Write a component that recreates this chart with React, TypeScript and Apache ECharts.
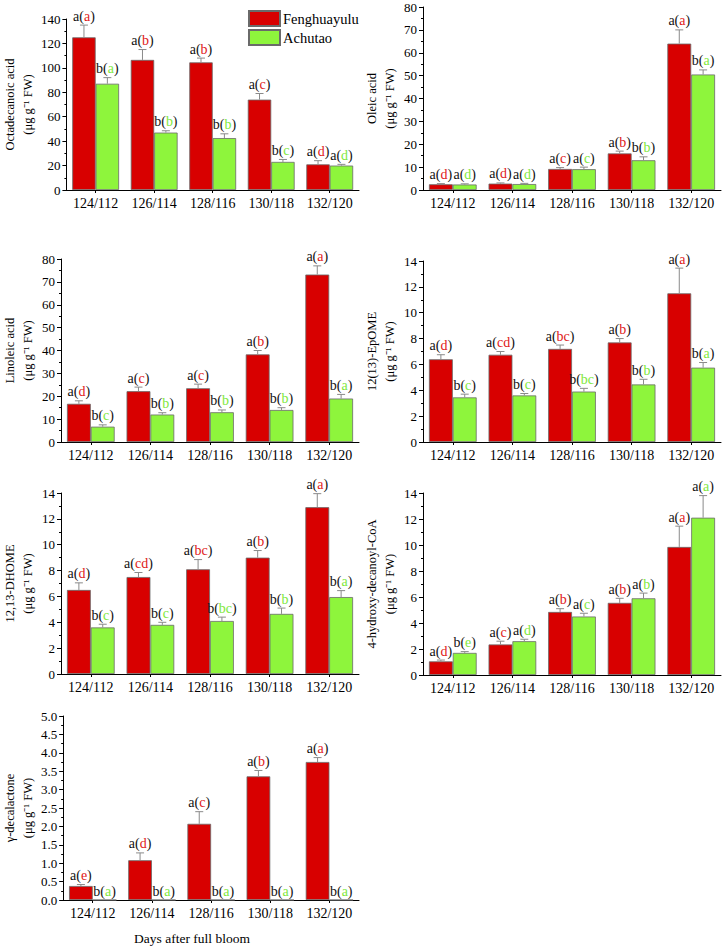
import React, { useEffect, useRef } from 'react';
import * as echarts from 'echarts';

const categories = ['124/112', '126/114', '128/116', '130/118', '132/120'];
const seriesNames = ['Fenghuayulu', 'Achutao'];
const panelTitles = ['Octadecanoic acid', 'Oleic acid', 'Linoleic acid', '12(13)-EpOME', '12,13-DHOME', '4-hydroxy-decanoyl-CoA', 'γ-decalactone'];
const unitLine = '(μg g⁻¹ FW)';
const xAxisTitle = 'Days after full bloom';

// Panel 1: Octadecanoic acid
const octRed = [125, 106.5, 104.5, 74, 21];
const octRedSd = [10, 8.5, 3.5, 5, 3];
const octGreen = [87, 47, 42.5, 23, 20];
const octGreenSd = [5, 1.5, 3.5, 2, 1];
const octRedSig = ['a(a)', 'a(b)', 'a(b)', 'a(c)', 'a(d)'];
const octGreenSig = ['b(a)', 'b(b)', 'b(b)', 'b(c)', 'a(d)'];

// Panel 2: Oleic acid
const oleRed = [2.5, 2.8, 9.2, 16, 64];
const oleRedSd = [0.3, 0.3, 0.6, 1, 6];
const oleGreen = [2.4, 2.6, 9.1, 13, 50.5];
const oleGreenSd = [0.3, 0.3, 0.9, 1.5, 2];
const oleRedSig = ['a(d)', 'a(d)', 'a(c)', 'a(b)', 'a(a)'];
const oleGreenSig = ['a(d)', 'a(d)', 'a(c)', 'b(b)', 'b(a)'];

// Panel 3: Linoleic acid
const linRed = [16.7, 22.2, 23.5, 38.3, 73.2];
const linRedSd = [1.3, 1.8, 1.8, 1.7, 3.8];
const linGreen = [6.7, 12, 13, 14, 19];
const linGreenSd = [0.8, 0.8, 1, 1, 1.8];
const linRedSig = ['a(d)', 'a(c)', 'a(c)', 'a(b)', 'a(a)'];
const linGreenSig = ['b(c)', 'b(b)', 'b(b)', 'b(b)', 'b(a)'];

// Panel 4: 12(13)-EpOME
const epoRed = [6.4, 6.75, 7.2, 7.7, 11.5];
const epoRedSd = [0.35, 0.25, 0.3, 0.3, 1.95];
const epoGreen = [3.45, 3.6, 3.9, 4.45, 5.75];
const epoGreenSd = [0.25, 0.15, 0.25, 0.4, 0.4];
const epoRedSig = ['a(d)', 'a(cd)', 'a(bc)', 'a(b)', 'a(a)'];
const epoGreenSig = ['b(c)', 'b(c)', 'b(bc)', 'b(b)', 'b(a)'];

// Panel 5: 12,13-DHOME
const dhoRed = [6.5, 7.5, 8.1, 9.0, 12.9];
const dhoRedSd = [0.55, 0.35, 0.75, 0.55, 1.05];
const dhoGreen = [3.6, 3.8, 4.1, 4.65, 5.95];
const dhoGreenSd = [0.25, 0.2, 0.3, 0.45, 0.5];
const dhoRedSig = ['a(d)', 'a(cd)', 'a(bc)', 'a(b)', 'a(a)'];
const dhoGreenSig = ['b(c)', 'b(c)', 'b(bc)', 'b(b)', 'b(a)'];

// Panel 6: 4-hydroxy-decanoyl-CoA
const hdcRed = [1.05, 2.35, 4.85, 5.55, 9.85];
const hdcRedSd = [0.1, 0.25, 0.25, 0.35, 1.6];
const hdcGreen = [1.7, 2.6, 4.5, 5.9, 12.1];
const hdcGreenSd = [0.1, 0.15, 0.25, 0.4, 1.7];
const hdcRedSig = ['a(d)', 'a(c)', 'a(b)', 'a(b)', 'a(a)'];
const hdcGreenSig = ['b(e)', 'a(d)', 'a(c)', 'a(b)', 'a(a)'];

// Panel 7: γ-decalactone
const gdlRed = [0.38, 1.08, 2.07, 3.36, 3.75];
const gdlRedSd = [0.04, 0.2, 0.33, 0.16, 0.12];
const gdlGreen = [0, 0, 0, 0, 0];
const gdlGreenSd = [0, 0, 0, 0, 0];
const gdlRedSig = ['a(e)', 'a(d)', 'a(c)', 'a(b)', 'a(a)'];
const gdlGreenSig = ['b(a)', 'b(a)', 'b(a)', 'b(a)', 'b(a)'];

// Axis ranges
const yMax = [140, 80, 80, 14, 14, 14, 5];
const yInterval = [20, 10, 10, 2, 2, 2, 0.5];
const yDecimals = [0, 0, 0, 0, 0, 0, 1];

const panels = [
  { red: octRed, redSd: octRedSd, green: octGreen, greenSd: octGreenSd, redSig: octRedSig, greenSig: octGreenSig },
  { red: oleRed, redSd: oleRedSd, green: oleGreen, greenSd: oleGreenSd, redSig: oleRedSig, greenSig: oleGreenSig },
  { red: linRed, redSd: linRedSd, green: linGreen, greenSd: linGreenSd, redSig: linRedSig, greenSig: linGreenSig },
  { red: epoRed, redSd: epoRedSd, green: epoGreen, greenSd: epoGreenSd, redSig: epoRedSig, greenSig: epoGreenSig },
  { red: dhoRed, redSd: dhoRedSd, green: dhoGreen, greenSd: dhoGreenSd, redSig: dhoRedSig, greenSig: dhoGreenSig },
  { red: hdcRed, redSd: hdcRedSd, green: hdcGreen, greenSd: hdcGreenSd, redSig: hdcRedSig, greenSig: hdcGreenSig },
  { red: gdlRed, redSd: gdlRedSd, green: gdlGreen, greenSd: gdlGreenSd, redSig: gdlRedSig, greenSig: gdlGreenSig },
];

const FONT = "'Liberation Serif', 'Times New Roman', serif";
const RED = '#D80000';
const GREEN = '#8EF53C';
const RED_TXT = '#E01818';
const GREEN_TXT = '#7EE83C';
const BORDER = '#6a6a6a';
const ERR = '#8a8a8a';

const gridBoxes = [
  { left: 61, top: 19, width: 298, height: 171 },
  { left: 423, top: 7, width: 298, height: 183 },
  { left: 61, top: 259, width: 298, height: 183 },
  { left: 423, top: 261, width: 298, height: 181 },
  { left: 61, top: 493, width: 298, height: 181 },
  { left: 423, top: 493, width: 298, height: 182 },
  { left: 61, top: 716, width: 298, height: 184 },
];

function errSeries(g: number, vals: number[], sds: number[], sigs: string[], side: number, letterColor: string) {
  return {
    type: 'custom',
    xAxisIndex: g,
    yAxisIndex: g,
    clip: false,
    silent: true,
    z: 10,
    data: vals.map((v, i) => [i, v, v + sds[i]]),
    encode: { x: 0, y: 1 },
    renderItem: (params: any, api: any) => {
      const i = api.value(0);
      const v = api.value(1);
      const top = api.value(2);
      const band = api.size([1, 0])[0];
      const bw = band * 0.4;
      const cx = api.coord([i, 0])[0] + (side === 0 ? -bw / 2 : bw / 2);
      const yv = api.coord([i, v])[1];
      const yt = api.coord([i, top])[1];
      const lab = sigs[params.dataIndex];
      const m = lab.match(/^(\w+)\((\w+)\)$/) || ['', lab, ''];
      const children: any[] = [];
      if (top > v) {
        children.push({ type: 'line', shape: { x1: cx, y1: yv, x2: cx, y2: yt }, style: { stroke: ERR, lineWidth: 1 } });
        children.push({ type: 'line', shape: { x1: cx - 4, y1: yt, x2: cx + 4, y2: yt }, style: { stroke: ERR, lineWidth: 1 } });
      }
      children.push({
        type: 'text',
        x: cx,
        y: yt - 2,
        style: {
          text: `{k|${m[1]}(}{c|${m[2]}}{k|)}`,
          font: `14px ${FONT}`,
          fontSize: 14,
          fontFamily: FONT,
          fill: '#111',
          rich: {
            k: { fill: '#111', fontSize: 14, fontFamily: FONT, font: `14px ${FONT}` },
            c: { fill: letterColor, fontSize: 14, fontFamily: FONT, font: `14px ${FONT}` },
          },
          align: 'center',
          verticalAlign: 'bottom',
        },
      });
      return { type: 'group', children };
    },
  };
}

export default function App() {
  const ref = useRef<HTMLDivElement>(null);
  useEffect(() => {
    if (!ref.current) return;
    const chart = echarts.init(ref.current, null, { renderer: 'svg' });
    const grids = gridBoxes.map((b) => ({ ...b, containLabel: false }));
    const xAxes = gridBoxes.map((_, g) => ({
      type: 'category',
      gridIndex: g,
      data: categories,
      axisLine: { show: true, lineStyle: { color: '#000', width: 1 } },
      axisTick: { show: true, alignWithLabel: true, length: 3, lineStyle: { color: '#000' } },
      axisLabel: { interval: 0, fontSize: 14, color: '#000', fontFamily: FONT, margin: 6 },
      splitLine: { show: false },
    }));
    const yAxes = gridBoxes.map((_, g) => ({
      type: 'value',
      gridIndex: g,
      min: 0,
      max: yMax[g],
      interval: yInterval[g],
      name: `${panelTitles[g]}\n${unitLine}`,
      nameLocation: 'middle',
      nameRotate: 90,
      nameGap: 24,
      nameTextStyle: { fontSize: 12.5, color: '#000', fontFamily: FONT, lineHeight: 18 },
      axisLine: { show: true, lineStyle: { color: '#000', width: 1 } },
      axisTick: { show: true, length: 4, lineStyle: { color: '#000' } },
      minorTick: { show: true, splitNumber: 2, length: 2, lineStyle: { color: '#000' } },
      splitLine: { show: false },
      minorSplitLine: { show: false },
      axisLabel: {
        fontSize: 13,
        color: '#000',
        fontFamily: FONT,
        margin: 6,
        formatter: (v: number) => v.toFixed(yDecimals[g]),
      },
    }));
    const series: any[] = [];
    panels.forEach((p, g) => {
      series.push({
        name: seriesNames[0],
        type: 'bar',
        xAxisIndex: g,
        yAxisIndex: g,
        data: p.red,
        barGap: '0%',
        barCategoryGap: '20%',
        itemStyle: { color: RED, borderColor: BORDER, borderWidth: 0.8 },
      });
      series.push({
        name: seriesNames[1],
        type: 'bar',
        xAxisIndex: g,
        yAxisIndex: g,
        data: p.green,
        barGap: '0%',
        barCategoryGap: '20%',
        itemStyle: { color: GREEN, borderColor: BORDER, borderWidth: 0.8 },
      });
      series.push(errSeries(g, p.red, p.redSd, p.redSig, 0, RED_TXT));
      series.push(errSeries(g, p.green, p.greenSd, p.greenSig, 1, GREEN_TXT));
    });
    chart.setOption({
      animation: false,
      backgroundColor: '#fff',
      grid: grids,
      xAxis: xAxes,
      yAxis: yAxes,
      legend: {
        data: seriesNames,
        orient: 'vertical',
        left: 243,
        top: 5,
        itemWidth: 31,
        itemHeight: 15,
        itemGap: 2,
        icon: 'rect',
        selectedMode: false,
        textStyle: { fontSize: 14.5, color: '#000', fontFamily: FONT, padding: [0, 0, 0, -2] },
      },
      graphic: [
        {
          type: 'text',
          x: 192,
          y: 938,
          style: { text: xAxisTitle, fontSize: 13.5, fontFamily: FONT, fill: '#000', align: 'center', verticalAlign: 'middle' },
        },
      ],
      series,
    });
    return () => chart.dispose();
  }, []);
  return <div ref={ref} style={{ position: 'absolute', left: 0, top: 0, width: 724, height: 946, background: '#fff' }} />;
}
